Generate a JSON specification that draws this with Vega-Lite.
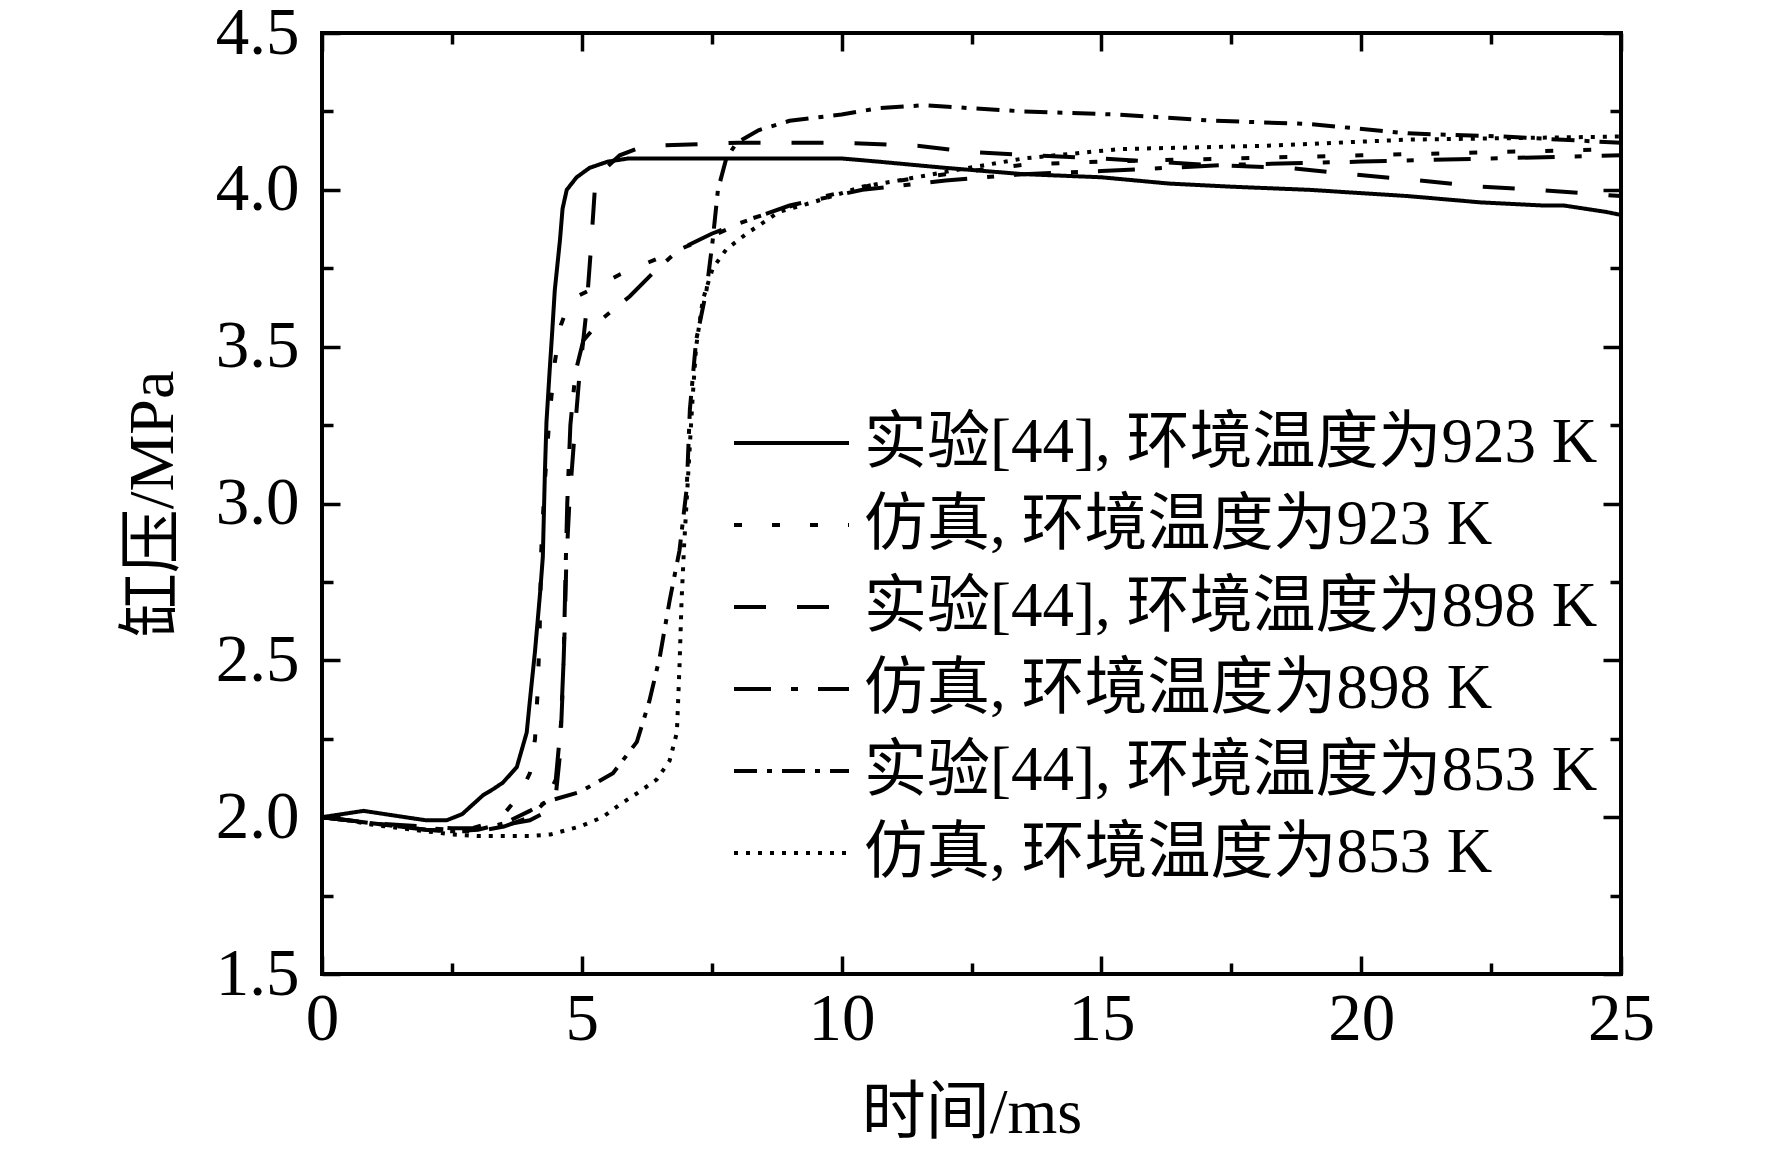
{
  "$schema": "https://vega.github.io/schema/vega-lite/v6.json",
  "width": 1299,
  "height": 941,
  "autosize": "none",
  "padding": {"left": 322, "top": 33, "right": 151, "bottom": 176},
  "background": "white",
  "config": {
    "font": "Liberation Serif, Noto Sans CJK SC",
    "view": {"stroke": "black", "strokeWidth": 4},
    "axis": {
      "domain": false,
      "grid": false,
      "tickColor": "black",
      "tickWidth": 3.5,
      "labelColor": "black",
      "labelFont": "Liberation Serif",
      "labelFontSize": 67,
      "labelFlush": false,
      "labelOverlap": false,
      "titleColor": "black",
      "titleFont": "Liberation Serif, Noto Sans CJK SC",
      "titleFontSize": 64,
      "titleFontWeight": "normal"
    }
  },
  "data": {"values": [
    {"s": "e923", "t": 0, "p": 2.0}, {"s": "e923", "t": 0.4, "p": 2.01}, {"s": "e923", "t": 0.8, "p": 2.02}, {"s": "e923", "t": 1.2, "p": 2.01},
    {"s": "e923", "t": 1.6, "p": 2.0}, {"s": "e923", "t": 2.0, "p": 1.99}, {"s": "e923", "t": 2.4, "p": 1.99}, {"s": "e923", "t": 2.7, "p": 2.01},
    {"s": "e923", "t": 3.1, "p": 2.07}, {"s": "e923", "t": 3.3, "p": 2.09}, {"s": "e923", "t": 3.48, "p": 2.11}, {"s": "e923", "t": 3.75, "p": 2.16},
    {"s": "e923", "t": 3.94, "p": 2.27}, {"s": "e923", "t": 4.0, "p": 2.37}, {"s": "e923", "t": 4.1, "p": 2.53}, {"s": "e923", "t": 4.2, "p": 2.72},
    {"s": "e923", "t": 4.25, "p": 2.83}, {"s": "e923", "t": 4.29, "p": 3.1}, {"s": "e923", "t": 4.32, "p": 3.26}, {"s": "e923", "t": 4.38, "p": 3.42},
    {"s": "e923", "t": 4.42, "p": 3.52}, {"s": "e923", "t": 4.48, "p": 3.68}, {"s": "e923", "t": 4.58, "p": 3.84}, {"s": "e923", "t": 4.63, "p": 3.94},
    {"s": "e923", "t": 4.71, "p": 4.0}, {"s": "e923", "t": 4.9, "p": 4.04}, {"s": "e923", "t": 5.15, "p": 4.07}, {"s": "e923", "t": 5.5, "p": 4.09},
    {"s": "e923", "t": 5.9, "p": 4.1}, {"s": "e923", "t": 8, "p": 4.1}, {"s": "e923", "t": 10, "p": 4.1}, {"s": "e923", "t": 10.7, "p": 4.09},
    {"s": "e923", "t": 12, "p": 4.07}, {"s": "e923", "t": 13.5, "p": 4.05}, {"s": "e923", "t": 15, "p": 4.04}, {"s": "e923", "t": 16.3, "p": 4.02},
    {"s": "e923", "t": 17.5, "p": 4.01}, {"s": "e923", "t": 19, "p": 4.0}, {"s": "e923", "t": 20.9, "p": 3.98}, {"s": "e923", "t": 22.3, "p": 3.96},
    {"s": "e923", "t": 23.5, "p": 3.95}, {"s": "e923", "t": 23.9, "p": 3.95}, {"s": "e923", "t": 24.3, "p": 3.94}, {"s": "e923", "t": 24.7, "p": 3.93},
    {"s": "e923", "t": 25, "p": 3.92},

    {"s": "s923", "t": 0, "p": 2.0}, {"s": "s923", "t": 0.5, "p": 1.99}, {"s": "s923", "t": 1, "p": 1.98}, {"s": "s923", "t": 1.5, "p": 1.97},
    {"s": "s923", "t": 2, "p": 1.965}, {"s": "s923", "t": 2.5, "p": 1.96}, {"s": "s923", "t": 2.9, "p": 1.965}, {"s": "s923", "t": 3.2, "p": 1.98},
    {"s": "s923", "t": 3.5, "p": 2.01}, {"s": "s923", "t": 3.8, "p": 2.07}, {"s": "s923", "t": 4.0, "p": 2.14}, {"s": "s923", "t": 4.1, "p": 2.25},
    {"s": "s923", "t": 4.15, "p": 2.4}, {"s": "s923", "t": 4.19, "p": 2.6}, {"s": "s923", "t": 4.22, "p": 2.85}, {"s": "s923", "t": 4.28, "p": 3.05},
    {"s": "s923", "t": 4.38, "p": 3.28}, {"s": "s923", "t": 4.48, "p": 3.45}, {"s": "s923", "t": 4.6, "p": 3.57}, {"s": "s923", "t": 4.78, "p": 3.65},
    {"s": "s923", "t": 5.15, "p": 3.68}, {"s": "s923", "t": 5.73, "p": 3.73}, {"s": "s923", "t": 6.3, "p": 3.77}, {"s": "s923", "t": 6.88, "p": 3.81},
    {"s": "s923", "t": 7.6, "p": 3.86}, {"s": "s923", "t": 8.3, "p": 3.91}, {"s": "s923", "t": 9.44, "p": 3.97}, {"s": "s923", "t": 10.7, "p": 4.02},
    {"s": "s923", "t": 12, "p": 4.05}, {"s": "s923", "t": 13.5, "p": 4.08}, {"s": "s923", "t": 15, "p": 4.09}, {"s": "s923", "t": 17.5, "p": 4.1},
    {"s": "s923", "t": 20, "p": 4.11}, {"s": "s923", "t": 22.5, "p": 4.12}, {"s": "s923", "t": 25, "p": 4.13},

    {"s": "e898", "t": 0, "p": 2.0}, {"s": "e898", "t": 0.5, "p": 1.99}, {"s": "e898", "t": 1, "p": 1.98}, {"s": "e898", "t": 1.5, "p": 1.975},
    {"s": "e898", "t": 2, "p": 1.97}, {"s": "e898", "t": 2.5, "p": 1.965}, {"s": "e898", "t": 3, "p": 1.965}, {"s": "e898", "t": 3.5, "p": 1.975},
    {"s": "e898", "t": 4.0, "p": 1.99}, {"s": "e898", "t": 4.35, "p": 2.02}, {"s": "e898", "t": 4.5, "p": 2.07}, {"s": "e898", "t": 4.58, "p": 2.2},
    {"s": "e898", "t": 4.63, "p": 2.4}, {"s": "e898", "t": 4.67, "p": 2.6}, {"s": "e898", "t": 4.7, "p": 2.8}, {"s": "e898", "t": 4.76, "p": 3.0},
    {"s": "e898", "t": 4.85, "p": 3.2}, {"s": "e898", "t": 4.95, "p": 3.4}, {"s": "e898", "t": 5.08, "p": 3.6}, {"s": "e898", "t": 5.17, "p": 3.8},
    {"s": "e898", "t": 5.25, "p": 4.0}, {"s": "e898", "t": 5.4, "p": 4.06}, {"s": "e898", "t": 5.73, "p": 4.11}, {"s": "e898", "t": 6.2, "p": 4.14},
    {"s": "e898", "t": 8, "p": 4.15}, {"s": "e898", "t": 10, "p": 4.15}, {"s": "e898", "t": 11.5, "p": 4.14}, {"s": "e898", "t": 12.5, "p": 4.12},
    {"s": "e898", "t": 15, "p": 4.1}, {"s": "e898", "t": 17, "p": 4.08}, {"s": "e898", "t": 18.6, "p": 4.07}, {"s": "e898", "t": 19.8, "p": 4.05},
    {"s": "e898", "t": 21.1, "p": 4.03}, {"s": "e898", "t": 22.3, "p": 4.01}, {"s": "e898", "t": 23.4, "p": 4.0}, {"s": "e898", "t": 25, "p": 3.98},

    {"s": "s898", "t": 0, "p": 2.0}, {"s": "s898", "t": 0.5, "p": 1.99}, {"s": "s898", "t": 1, "p": 1.98}, {"s": "s898", "t": 1.5, "p": 1.97},
    {"s": "s898", "t": 2, "p": 1.96}, {"s": "s898", "t": 2.5, "p": 1.955}, {"s": "s898", "t": 3, "p": 1.955}, {"s": "s898", "t": 3.5, "p": 1.97},
    {"s": "s898", "t": 4.0, "p": 2.0}, {"s": "s898", "t": 4.3, "p": 2.05}, {"s": "s898", "t": 4.5, "p": 2.12}, {"s": "s898", "t": 4.6, "p": 2.3},
    {"s": "s898", "t": 4.65, "p": 2.5}, {"s": "s898", "t": 4.69, "p": 2.8}, {"s": "s898", "t": 4.72, "p": 3.0}, {"s": "s898", "t": 4.78, "p": 3.25},
    {"s": "s898", "t": 4.88, "p": 3.42}, {"s": "s898", "t": 5.03, "p": 3.52}, {"s": "s898", "t": 5.4, "p": 3.59}, {"s": "s898", "t": 5.92, "p": 3.66},
    {"s": "s898", "t": 6.4, "p": 3.74}, {"s": "s898", "t": 6.88, "p": 3.81}, {"s": "s898", "t": 7.5, "p": 3.86}, {"s": "s898", "t": 7.98, "p": 3.89},
    {"s": "s898", "t": 9, "p": 3.95}, {"s": "s898", "t": 10.4, "p": 4.0}, {"s": "s898", "t": 12, "p": 4.03}, {"s": "s898", "t": 13.5, "p": 4.05},
    {"s": "s898", "t": 15, "p": 4.06}, {"s": "s898", "t": 17.5, "p": 4.08}, {"s": "s898", "t": 20, "p": 4.09}, {"s": "s898", "t": 22.5, "p": 4.1},
    {"s": "s898", "t": 25, "p": 4.11},

    {"s": "e853", "t": 0, "p": 2.0}, {"s": "e853", "t": 0.5, "p": 1.99}, {"s": "e853", "t": 1, "p": 1.98}, {"s": "e853", "t": 1.5, "p": 1.97},
    {"s": "e853", "t": 2, "p": 1.96}, {"s": "e853", "t": 2.5, "p": 1.955}, {"s": "e853", "t": 3, "p": 1.96}, {"s": "e853", "t": 3.5, "p": 1.98},
    {"s": "e853", "t": 4, "p": 2.02}, {"s": "e853", "t": 4.33, "p": 2.05}, {"s": "e853", "t": 4.96, "p": 2.08}, {"s": "e853", "t": 5.6, "p": 2.14},
    {"s": "e853", "t": 6.06, "p": 2.24}, {"s": "e853", "t": 6.3, "p": 2.37}, {"s": "e853", "t": 6.5, "p": 2.51}, {"s": "e853", "t": 6.69, "p": 2.69},
    {"s": "e853", "t": 6.88, "p": 2.85}, {"s": "e853", "t": 7.02, "p": 3.05}, {"s": "e853", "t": 7.08, "p": 3.3}, {"s": "e853", "t": 7.2, "p": 3.52},
    {"s": "e853", "t": 7.4, "p": 3.68}, {"s": "e853", "t": 7.52, "p": 3.84}, {"s": "e853", "t": 7.62, "p": 4.0}, {"s": "e853", "t": 7.78, "p": 4.1},
    {"s": "e853", "t": 7.98, "p": 4.15}, {"s": "e853", "t": 8.4, "p": 4.19}, {"s": "e853", "t": 9, "p": 4.22}, {"s": "e853", "t": 9.5, "p": 4.23},
    {"s": "e853", "t": 10, "p": 4.24}, {"s": "e853", "t": 10.7, "p": 4.26}, {"s": "e853", "t": 11.6, "p": 4.27}, {"s": "e853", "t": 12.5, "p": 4.26},
    {"s": "e853", "t": 13.5, "p": 4.25}, {"s": "e853", "t": 15.3, "p": 4.24}, {"s": "e853", "t": 17.2, "p": 4.22}, {"s": "e853", "t": 19, "p": 4.21},
    {"s": "e853", "t": 20.9, "p": 4.18}, {"s": "e853", "t": 22.7, "p": 4.17}, {"s": "e853", "t": 25, "p": 4.15},

    {"s": "s853", "t": 0, "p": 2.0}, {"s": "s853", "t": 0.5, "p": 1.99}, {"s": "s853", "t": 1, "p": 1.975}, {"s": "s853", "t": 1.5, "p": 1.965},
    {"s": "s853", "t": 2, "p": 1.955}, {"s": "s853", "t": 2.5, "p": 1.945}, {"s": "s853", "t": 3, "p": 1.94}, {"s": "s853", "t": 3.5, "p": 1.94},
    {"s": "s853", "t": 4, "p": 1.94}, {"s": "s853", "t": 4.4, "p": 1.945}, {"s": "s853", "t": 4.96, "p": 1.97}, {"s": "s853", "t": 5.4, "p": 2.0},
    {"s": "s853", "t": 5.73, "p": 2.04}, {"s": "s853", "t": 6.1, "p": 2.08}, {"s": "s853", "t": 6.44, "p": 2.12}, {"s": "s853", "t": 6.69, "p": 2.18},
    {"s": "s853", "t": 6.83, "p": 2.27}, {"s": "s853", "t": 6.88, "p": 2.48}, {"s": "s853", "t": 6.92, "p": 2.69}, {"s": "s853", "t": 6.97, "p": 2.87},
    {"s": "s853", "t": 7.05, "p": 3.1}, {"s": "s853", "t": 7.13, "p": 3.33}, {"s": "s853", "t": 7.2, "p": 3.5}, {"s": "s853", "t": 7.33, "p": 3.65},
    {"s": "s853", "t": 7.52, "p": 3.75}, {"s": "s853", "t": 7.78, "p": 3.81}, {"s": "s853", "t": 8.17, "p": 3.86}, {"s": "s853", "t": 8.8, "p": 3.93},
    {"s": "s853", "t": 9.44, "p": 3.96}, {"s": "s853", "t": 10.4, "p": 4.01}, {"s": "s853", "t": 11.1, "p": 4.03}, {"s": "s853", "t": 12.1, "p": 4.06},
    {"s": "s853", "t": 13.5, "p": 4.1}, {"s": "s853", "t": 15.35, "p": 4.13}, {"s": "s853", "t": 18.1, "p": 4.14}, {"s": "s853", "t": 20.9, "p": 4.16},
    {"s": "s853", "t": 25, "p": 4.17}
  ]},
  "resolve": {"axis": {"x": "independent", "y": "independent"}},
  "layer": [
    {
      "mark": {"type": "line", "color": "black", "strokeWidth": 4},
      "encoding": {
        "x": {
          "field": "t", "type": "quantitative",
          "scale": {"domain": [0, 25], "nice": false},
          "axis": {
            "orient": "bottom",
            "title": "时间/ms",
            "values": [0, 2.5, 5, 7.5, 10, 12.5, 15, 17.5, 20, 22.5, 25],
            "format": ".1f",
            "labelExpr": "datum.value % 5 === 0 ? format(datum.value, 'd') : ''",
            "tickSize": {"condition": {"test": "datum.value % 5 === 0", "value": -18}, "value": -11},
            "labelPadding": 30,
            "titlePadding": 22
          }
        },
        "y": {
          "field": "p", "type": "quantitative",
          "scale": {"domain": [1.5, 4.5], "nice": false, "zero": false},
          "axis": {
            "orient": "left",
            "title": "缸压/MPa",
            "values": [1.5, 1.75, 2, 2.25, 2.5, 2.75, 3, 3.25, 3.5, 3.75, 4, 4.25, 4.5],
            "labelExpr": "(datum.value * 4) % 2 === 0 ? format(datum.value, '.1f') : ''",
            "tickSize": {"condition": {"test": "(datum.value * 4) % 2 === 0", "value": -18}, "value": -11},
            "labelPadding": 41,
            "titlePadding": 30
          }
        },
        "strokeDash": {
          "field": "s", "type": "nominal",
          "scale": {
            "domain": ["e923", "s923", "e898", "s898", "e853", "s853"],
            "range": [[1, 0], [8, 30], [32, 31], [37, 20, 7, 20], [23, 10, 5, 10], [4, 8]]
          },
          "legend": {
            "title": null,
            "orient": "none",
            "legendX": 410,
            "legendY": 369,
            "symbolType": "stroke",
            "symbolSize": 13225,
            "symbolStrokeWidth": 4,
            "symbolStrokeColor": "black",
            "labelFont": "Liberation Serif, Noto Sans CJK SC",
            "labelFontSize": 63,
            "labelColor": "black",
            "labelOffset": 13,
            "labelLimit": 0,
            "clipHeight": 82,
            "rowPadding": 0,
            "labelExpr": "{'e923': '实验[44], 环境温度为923 K', 's923': '仿真, 环境温度为923 K', 'e898': '实验[44], 环境温度为898 K', 's898': '仿真, 环境温度为898 K', 'e853': '实验[44], 环境温度为853 K', 's853': '仿真, 环境温度为853 K'}[datum.value]"
          }
        }
      }
    },
    {
      "mark": {"type": "point", "opacity": 0},
      "encoding": {
        "x": {
          "field": "t", "type": "quantitative",
          "axis": {
            "orient": "top",
            "title": null,
            "labels": false,
            "values": [0, 2.5, 5, 7.5, 10, 12.5, 15, 17.5, 20, 22.5, 25],
            "tickSize": {"condition": {"test": "datum.value % 5 === 0", "value": -18}, "value": -11}
          }
        },
        "y": {
          "field": "p", "type": "quantitative",
          "axis": {
            "orient": "right",
            "title": null,
            "labels": false,
            "values": [1.5, 1.75, 2, 2.25, 2.5, 2.75, 3, 3.25, 3.5, 3.75, 4, 4.25, 4.5],
            "tickSize": {"condition": {"test": "(datum.value * 4) % 2 === 0", "value": -18}, "value": -11}
          }
        }
      }
    }
  ]
}
